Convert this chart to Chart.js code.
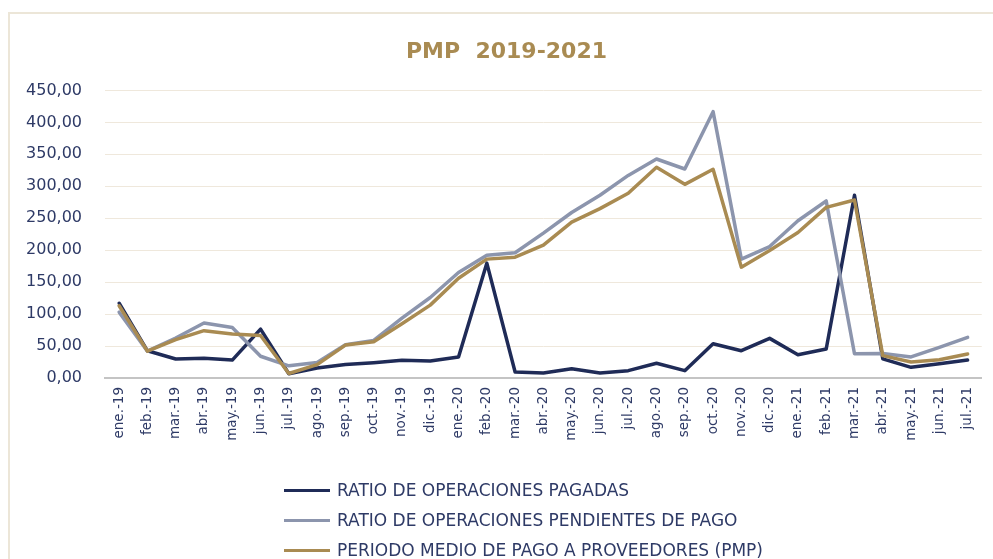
<!DOCTYPE html>
<html>
<head>
<meta charset="utf-8">
<script src="https://cdn.jsdelivr.net/npm/chart.js@4"></script>
<style>
  html, body { margin: 0; padding: 0; background: #fff; }
  #wrap { position: relative; width: 993px; height: 559px; overflow: hidden; }
  #frame {
    position: absolute; left: 8px; top: 12px; width: 1100px; height: 700px;
    border-left: 2px solid #ece6d8; border-top: 2px solid #ece6d8;
  }
  #chart { position: absolute; left: 0; top: 0; }
  #legend { position: absolute; left: 284px; top: 475px; }
  .item { display: flex; align-items: center; height: 30px; }
  .swatch { width: 46px; height: 3px; margin-right: 7px; }
  .item span { font-family: 'DejaVu Sans'; font-size: 17px; color: #2e3a66; white-space: nowrap; }
</style>
</head>
<body>
<div id="wrap">
  <div id="frame"></div>
  <canvas id="chart" width="993" height="559"></canvas>
  <div id="legend"></div>
</div>
<script>
// data
const months = ['ene.-19','feb.-19','mar.-19','abr.-19','may.-19','jun.-19','jul.-19','ago.-19','sep.-19','oct.-19','nov.-19','dic.-19',
  'ene.-20','feb.-20','mar.-20','abr.-20','may.-20','jun.-20','jul.-20','ago.-20','sep.-20','oct.-20','nov.-20','dic.-20',
  'ene.-21','feb.-21','mar.-21','abr.-21','may.-21','jun.-21','jul.-21'];

const pagadas = [117, 42.6, 29.7, 31, 28, 76.5, 6.7, 15.6, 21, 24, 27.6, 26.5, 32.8, 179.7, 9.4, 7.8, 14.6, 7.8, 11.5, 23, 11.5,
  53.6, 42.7, 62, 36.5, 45.3, 286, 30, 16.7, 22.4, 28];
const pendientes = [103, 42, 62.5, 86, 79, 34, 19, 24.4, 52, 58.8, 93.7, 126, 165, 192, 196, 226.6, 259, 286, 317, 342.7, 327,
  416.7, 186, 205.7, 246, 277, 38, 38.5, 33, 48, 63.5];
const pmp = [113, 42, 60, 74, 69, 66.6, 7, 21, 51.5, 56.7, 85, 114, 156, 186, 189, 207.8, 244, 265, 289, 329.7, 303,
  326.6, 173.4, 199.5, 227.6, 267, 278.6, 35, 25, 28.6, 37.5];

const seriesNames = ['RATIO DE OPERACIONES PAGADAS', 'RATIO DE OPERACIONES PENDIENTES DE PAGO', 'PERIODO MEDIO DE PAGO A PROVEEDORES (PMP)'];
const seriesColors = ['#1f2b57', '#8c95ad', '#a98b52'];

const yMin = 0, yMax = 450, yStep = 50;

const textColor = '#2e3a66';

function line(i, values, order) {
  return {
    label: seriesNames[i],
    data: values,
    borderColor: seriesColors[i],
    backgroundColor: seriesColors[i],
    borderWidth: 3.5,
    borderJoinStyle: 'round',
    borderCapStyle: 'round',
    pointRadius: 0,
    tension: 0,
    order: order
  };
}

// title is centred a bit right of the canvas middle in the original
const shiftTitle = {
  id: 'shiftTitle',
  afterLayout(chart) {
    if (chart.titleBlock) chart.titleBlock.left += 31;
  }
};

const config = {
  type: 'line',
  data: {
    labels: months,
    datasets: [
      line(0, pagadas, 3),
      line(1, pendientes, 2),
      line(2, pmp, 1)
    ]
  },
  options: {
    responsive: false,
    animation: false,
    devicePixelRatio: 1,
    layout: { padding: { left: 0, right: 11, top: 0, bottom: 0 } },
    plugins: {
      legend: { display: false },
      tooltip: { enabled: false },
      title: {
        display: true,
        text: 'PMP  2019-2021',
        color: '#a98b52',
        font: { family: 'DejaVu Sans', size: 22, weight: 'bold', lineHeight: 1.2 },
        padding: { top: 39, bottom: 25 }
      }
    },
    scales: {
      x: {
        offset: true,
        grid: { display: false, drawTicks: false },
        border: { display: true, color: '#c4c4c4', width: 2 },
        ticks: {
          autoSkip: false,
          maxRotation: 90,
          minRotation: 90,
          padding: 9,
          color: textColor,
          font: { family: 'DejaVu Sans', size: 13.5 }
        },
        afterFit(scale) { scale.height = 181; }
      },
      y: {
        min: yMin,
        max: yMax,
        grid: { color: '#efe8dc', lineWidth: 1, drawTicks: false },
        border: { display: false },
        ticks: {
          stepSize: yStep,
          padding: 23,
          color: textColor,
          font: { family: 'DejaVu Sans', size: 16 },
          callback: (v) => v.toFixed(2).replace('.', ',')
        },
        afterFit(scale) { scale.width = 105; }
      }
    }
  },
  plugins: [shiftTitle]
};

const myChart = new Chart(document.getElementById('chart'), config);

// legend, one item per row
const legend = document.getElementById('legend');
myChart.data.datasets.forEach((ds) => {
  const row = document.createElement('div');
  row.className = 'item';
  const sw = document.createElement('div');
  sw.className = 'swatch';
  sw.style.background = ds.borderColor;
  const txt = document.createElement('span');
  txt.textContent = ds.label;
  row.appendChild(sw);
  row.appendChild(txt);
  legend.appendChild(row);
});
</script>
</body>
</html>
